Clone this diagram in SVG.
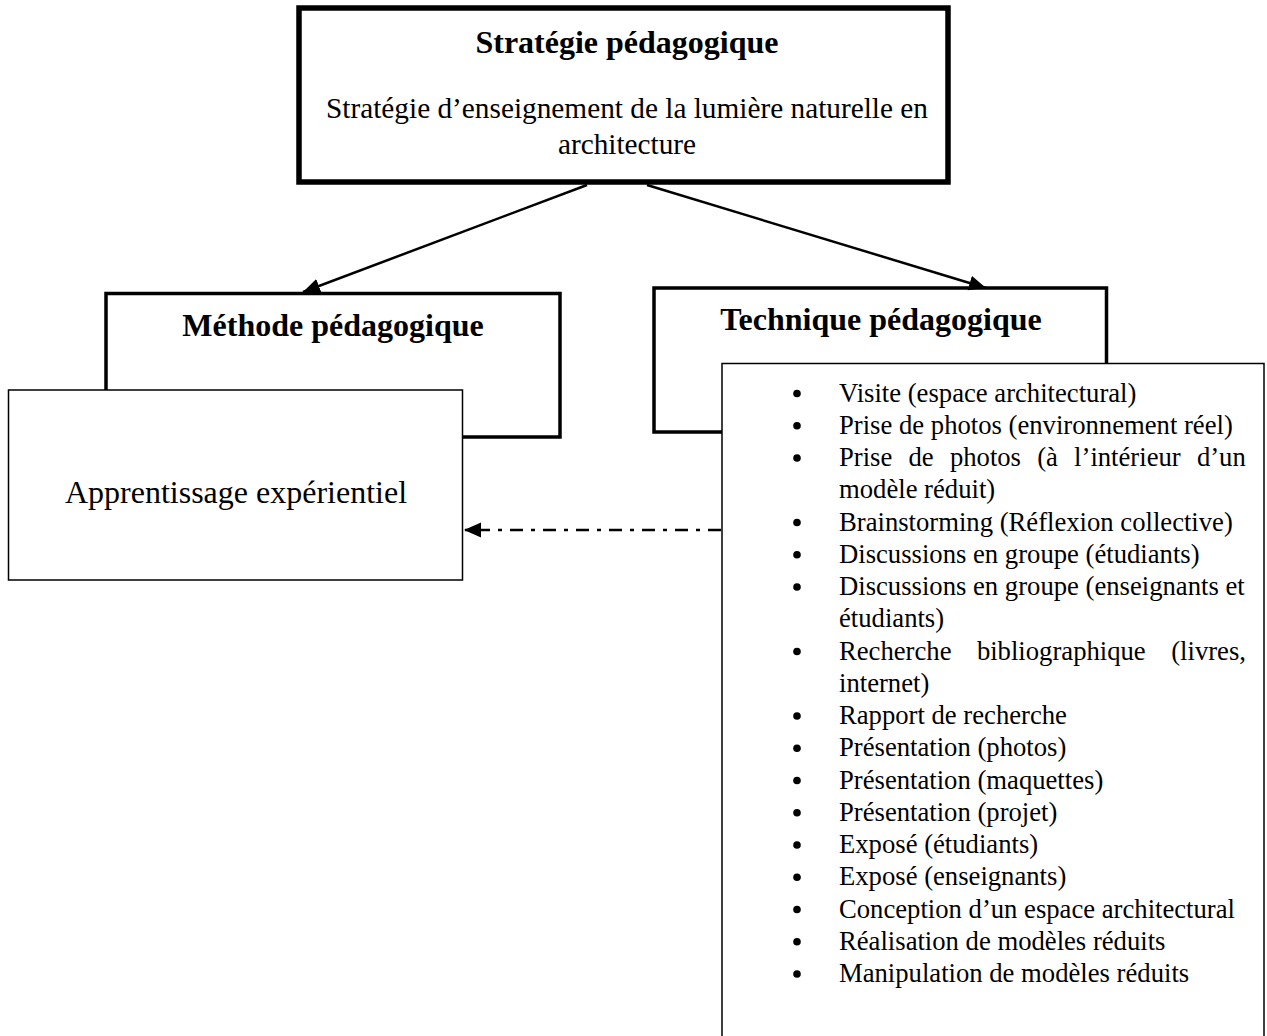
<svg xmlns="http://www.w3.org/2000/svg" width="1267" height="1036" viewBox="0 0 1267 1036">
<style>
  text { font-family: "Liberation Serif", "Times New Roman", serif; fill: #000; }
  .title { font-size: 32px; font-weight: bold; text-anchor: middle; }
  .sub { font-size: 29.3px; text-anchor: middle; }
  .big { font-size: 32px; text-anchor: middle; }
  .li { font-size: 26.67px; }
  .thick { fill: #fff; stroke: #000; stroke-width: 3.5; }
  .thin { fill: #fff; stroke: #000; stroke-width: 1.5; }
  .conn { fill: none; stroke: #000; stroke-width: 2.5; }
  .dashdot { fill: none; stroke: #000; stroke-width: 2.5; stroke-dasharray: 13 8 4 8; }
</style>
<defs>
  <marker id="arrow" markerUnits="userSpaceOnUse" markerWidth="18" markerHeight="16" refX="17" refY="7.5" orient="auto">
    <path d="M0,0 L17,7.5 L0,15 z" fill="#000"/>
  </marker>
</defs>
<rect width="1267" height="1036" fill="#fff"/>

<g id="strategie">
  <rect x="299" y="8" width="649" height="174" fill="#fff" stroke="#000" stroke-width="5.5"/>
  <text class="title" x="627" y="53">Stratégie pédagogique</text>
  <text class="sub" x="627" y="118">Stratégie d’enseignement de la lumière naturelle en</text>
  <text class="sub" x="627" y="154">architecture</text>
</g>

<g id="methode">
  <rect class="thick" x="106" y="293.5" width="454" height="143.5"/>
  <text class="title" x="333" y="336">Méthode pédagogique</text>
</g>

<g id="apprentissage">
  <rect class="thin" x="8.5" y="390" width="454" height="190"/>
  <text class="big" x="236" y="503">Apprentissage expérientiel</text>
</g>

<g id="technique">
  <rect class="thick" x="654" y="288" width="452.5" height="144"/>
  <text class="title" x="881" y="330">Technique pédagogique</text>
</g>

<g id="techniques-list">
  <rect class="thin" x="722" y="363.5" width="542" height="700"/>
  <g fill="#000">
    <circle cx="797" cy="393.5" r="3.8"/>
    <circle cx="797" cy="425.75" r="3.8"/>
    <circle cx="797" cy="458" r="3.8"/>
    <circle cx="797" cy="522.5" r="3.8"/>
    <circle cx="797" cy="554.75" r="3.8"/>
    <circle cx="797" cy="587" r="3.8"/>
    <circle cx="797" cy="651.5" r="3.8"/>
    <circle cx="797" cy="716" r="3.8"/>
    <circle cx="797" cy="748.25" r="3.8"/>
    <circle cx="797" cy="780.5" r="3.8"/>
    <circle cx="797" cy="812.75" r="3.8"/>
    <circle cx="797" cy="845" r="3.8"/>
    <circle cx="797" cy="877.25" r="3.8"/>
    <circle cx="797" cy="909.5" r="3.8"/>
    <circle cx="797" cy="941.75" r="3.8"/>
    <circle cx="797" cy="974" r="3.8"/>
  </g>
  <text class="li" x="839" y="401.5">Visite (espace architectural)</text>
  <text class="li" x="839" y="433.75">Prise de photos (environnement réel)</text>
  <text class="li" y="466"><tspan x="839">Prise</tspan><tspan x="908.5">de</tspan><tspan x="949.9">photos</tspan><tspan x="1037.2">(à</tspan><tspan x="1074.1">l’intérieur</tspan><tspan x="1196.9">d’un</tspan></text>
  <text class="li" x="839" y="498.25">modèle réduit)</text>
  <text class="li" x="839" y="530.5">Brainstorming (Réflexion collective)</text>
  <text class="li" x="839" y="562.75">Discussions en groupe (étudiants)</text>
  <text class="li" x="839" y="595">Discussions en groupe (enseignants et</text>
  <text class="li" x="839" y="627.25">étudiants)</text>
  <text class="li" y="659.5"><tspan x="839">Recherche</tspan><tspan x="976.9">bibliographique</tspan><tspan x="1171.2">(livres,</tspan></text>
  <text class="li" x="839" y="691.75">internet)</text>
  <text class="li" x="839" y="724">Rapport de recherche</text>
  <text class="li" x="839" y="756.25">Présentation (photos)</text>
  <text class="li" x="839" y="788.5">Présentation (maquettes)</text>
  <text class="li" x="839" y="820.75">Présentation (projet)</text>
  <text class="li" x="839" y="853">Exposé (étudiants)</text>
  <text class="li" x="839" y="885.25">Exposé (enseignants)</text>
  <text class="li" x="839" y="917.5">Conception d’un espace architectural</text>
  <text class="li" x="839" y="949.75">Réalisation de modèles réduits</text>
  <text class="li" x="839" y="982">Manipulation de modèles réduits</text>
</g>

<g id="connectors">
  <path class="conn" d="M587,185 L303,292" marker-end="url(#arrow)"/>
  <path class="conn" d="M647,185 L986,288" marker-end="url(#arrow)"/>
  <path class="dashdot" d="M721,530 L464,530" marker-end="url(#arrow)"/>
</g>
</svg>
